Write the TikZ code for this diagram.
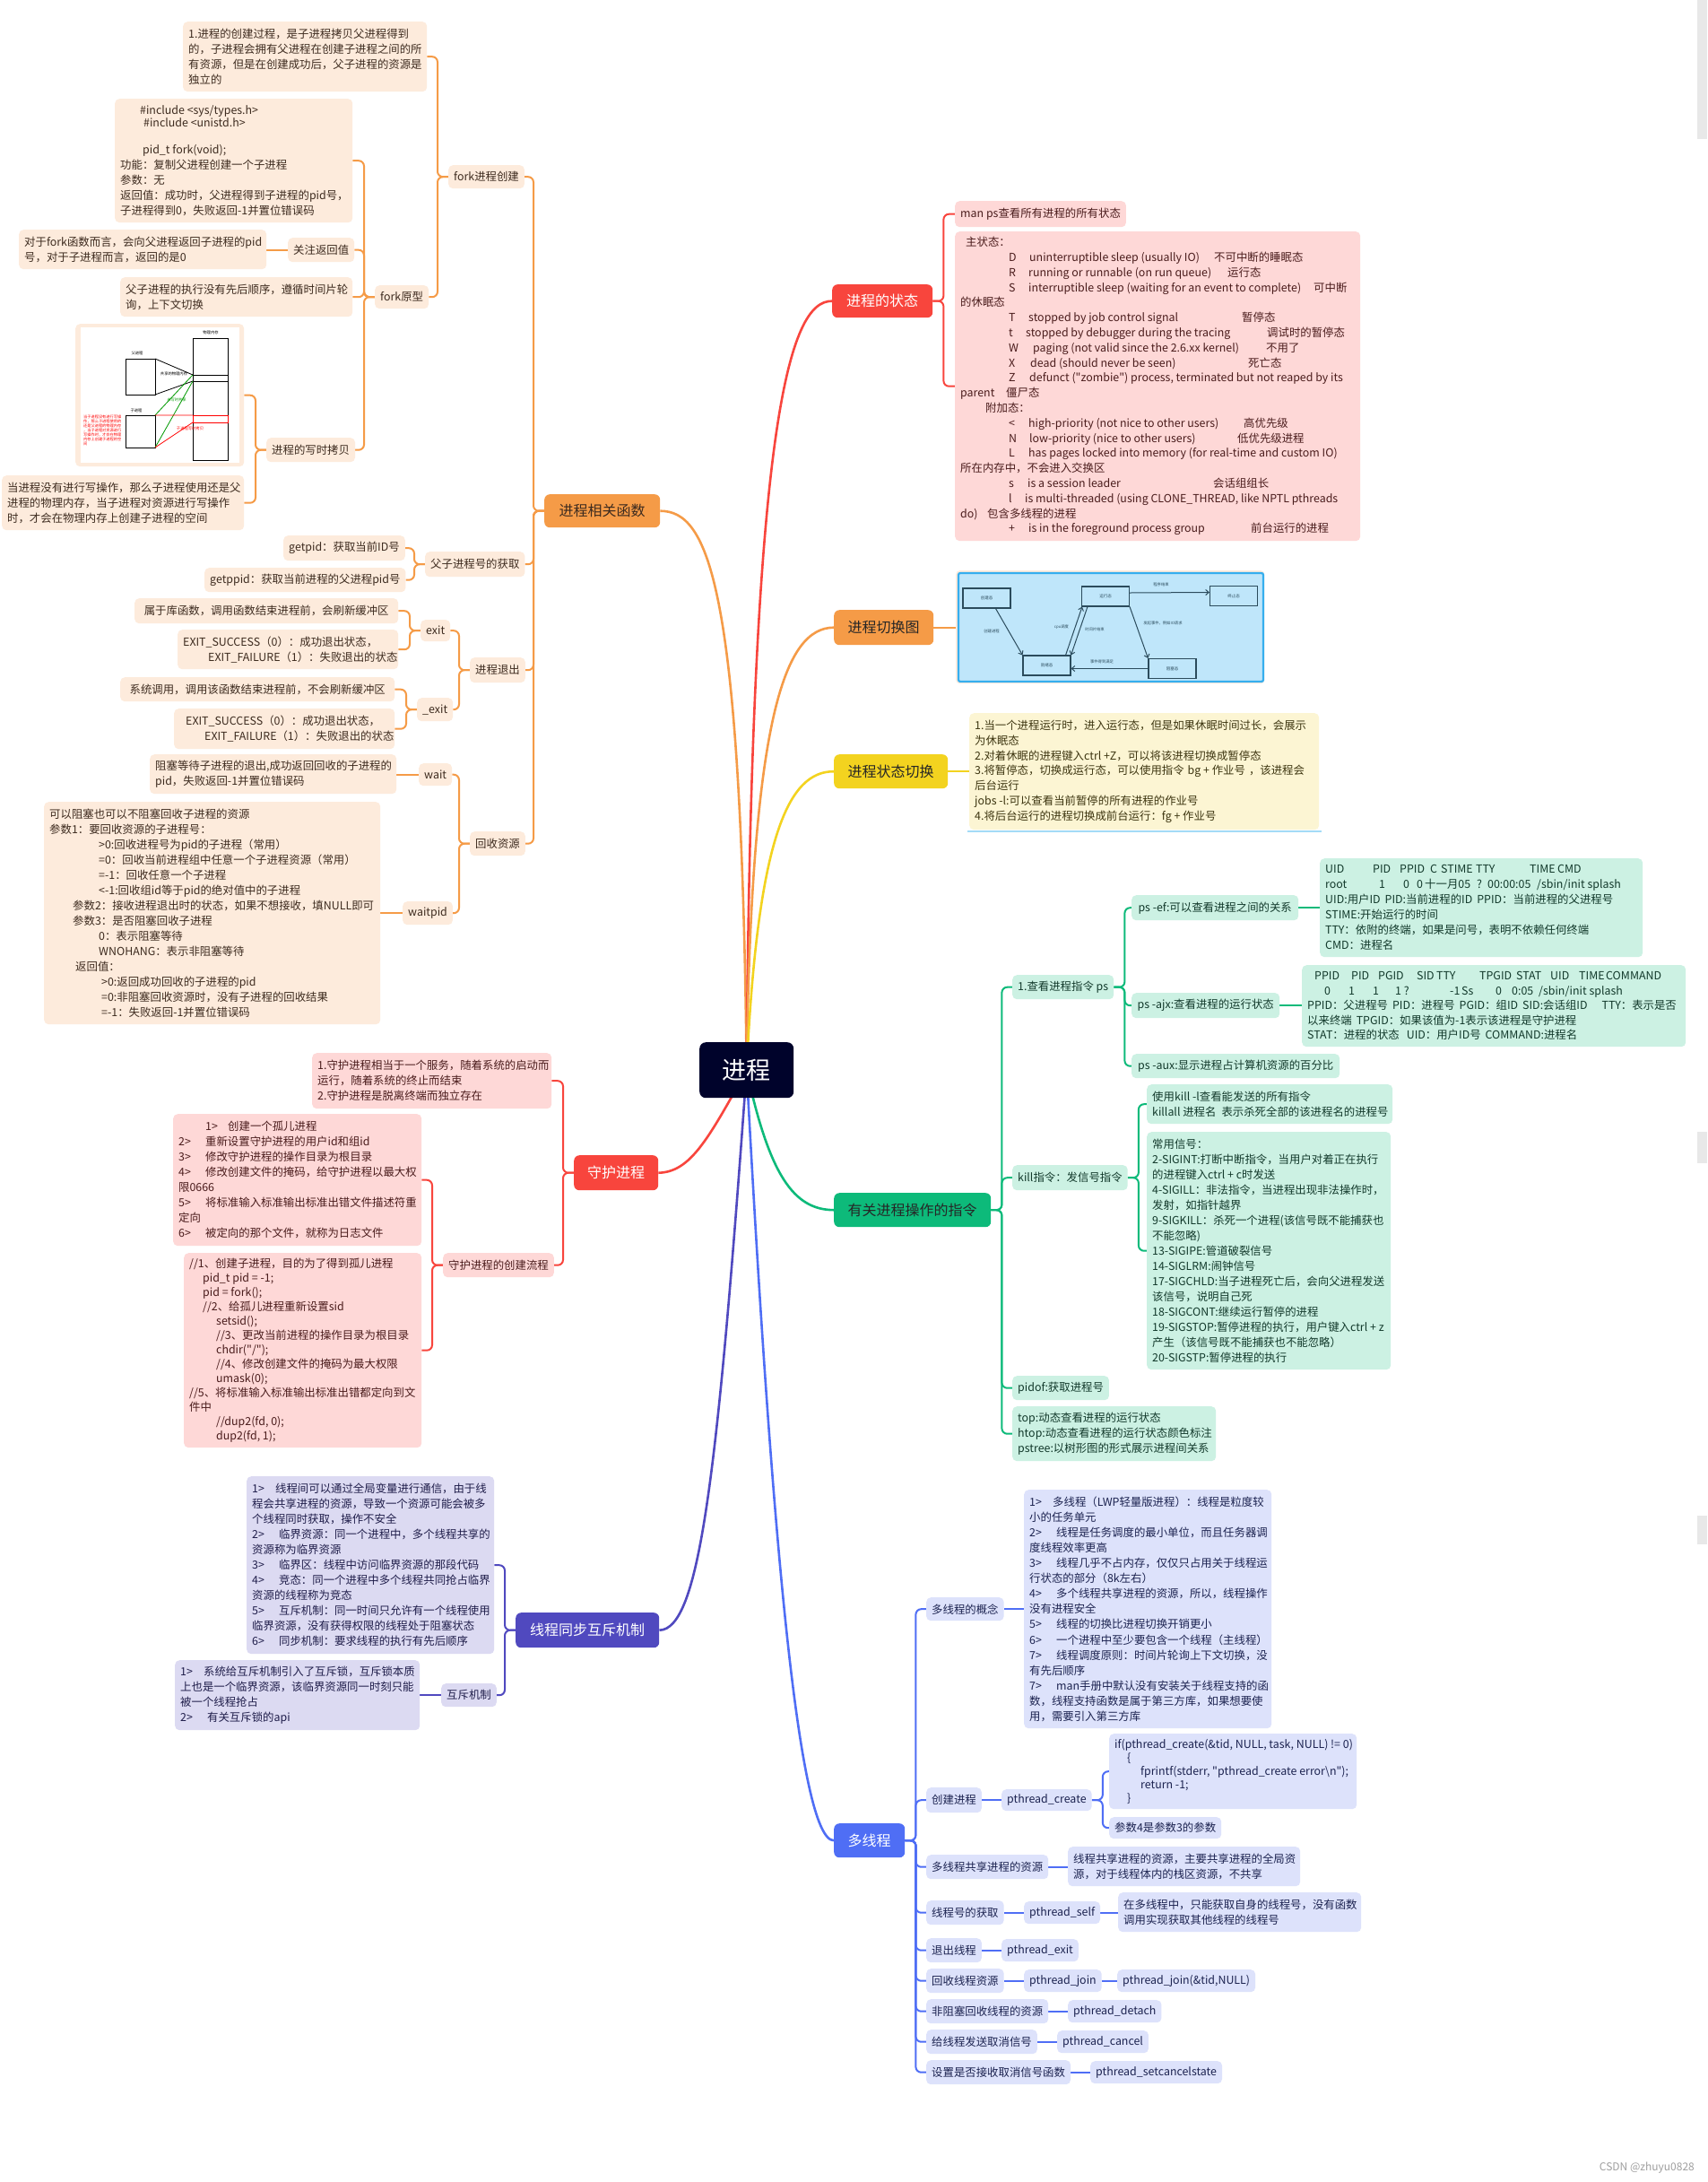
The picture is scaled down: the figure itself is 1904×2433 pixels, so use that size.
\documentclass[tikz,border=0pt]{standalone}
\usepackage{fontspec}
\setmainfont{Noto Sans CJK SC}[Ligatures=TeXOff]
\usetikzlibrary{backgrounds,arrows.meta,calc}
\definecolor{ROOT}{HTML}{00032B}
\definecolor{OR}{HTML}{F59B47}
\definecolor{ORL}{HTML}{FDEBDC}
\definecolor{ORT}{HTML}{3D2B1F}
\definecolor{RD}{HTML}{F8453D}
\definecolor{RDL}{HTML}{FED8D7}
\definecolor{RDT}{HTML}{4A1C1C}
\definecolor{YL}{HTML}{F3D31F}
\definecolor{YLL}{HTML}{FCF5D3}
\definecolor{YLT}{HTML}{3D3510}
\definecolor{GR}{HTML}{0DBA7A}
\definecolor{GRL}{HTML}{CCF1E3}
\definecolor{GRT}{HTML}{12392B}
\definecolor{IN}{HTML}{5049BF}
\definecolor{INL}{HTML}{DCDAF2}
\definecolor{INT}{HTML}{1F1D4A}
\definecolor{BL}{HTML}{4F6EF5}
\definecolor{BLL}{HTML}{DDE2FB}
\definecolor{BLT}{HTML}{1C2350}
\definecolor{SKY}{HTML}{BFE6FA}
\definecolor{SKYB}{HTML}{36AEEE}
\definecolor{DIAG}{HTML}{2B4B5C}
\newcommand\fsz[2]{\fontsize{#1pt}{#2pt}\selectfont}
\newcommand\BX[7]{\node[#1,anchor=north west,minimum width=#5pt,minimum height=#6pt] (#2) at (#3,#4) {};
  \node[#1,fill=none,anchor=west,inner sep=0pt] (#2t) at ([xshift=6pt]#2.west) {#7};}
\newcommand\BR[7]{\node[#1,anchor=north west,minimum width=#5pt,minimum height=#6pt] (#2) at (#3,#4) {#7};}
\newcommand\elL[3]{\draw[link,#1] (#2.west) -- ++(-12,0) |- (#3.east);}
\newcommand\elR[3]{\draw[link,#1] (#2.east) -- ++(12,0) |- (#3.west);}
\newcommand\stL[3]{\draw[link,#1] (#2.west) -- (#2.west -| #3.east);}
\newcommand\stR[3]{\draw[link,#1] (#2.east) -- (#2.east -| #3.west);}
\newcommand\MB[2]{\makebox[#1pt][l]{#2}}
\newcommand\HS[1]{\hspace*{#1pt}}
\tikzset{
 leaf/.style={rounded corners=5pt,inner xsep=6pt,inner ysep=2pt,align=left,font=\fsz{12.4}{17}},
 oL/.style={leaf,fill=ORL,text=ORT},
 rL/.style={leaf,fill=RDL,text=RDT},
 yL/.style={leaf,fill=YLL,text=YLT},
 gL/.style={leaf,fill=GRL,text=GRT},
 iL/.style={leaf,fill=INL,text=INT},
 bL/.style={leaf,fill=BLL,text=BLT},
 branch/.style={rounded corners=6pt,inner sep=2pt,align=center,font=\fsz{16}{20}},
 link/.style={line width=2pt,rounded corners=6pt},
 mlink/.style={line width=2.6pt},
 tinylab/.style={inner sep=0pt,font=\fsz{4.3}{5}},
 diagbox/.style={draw=DIAG,line width=1.1pt,minimum width=53pt,minimum height=22pt,inner sep=0pt,font=\fsz{4.5}{5},text=DIAG},
 darr/.style={draw=DIAG,line width=1pt,-{Straight Barb[length=3.5pt,width=6pt]}},
}
\begin{document}
\begin{tikzpicture}[x=1pt,y=-1pt]
\useasboundingbox (0,0) rectangle (1904,2433);
% ---------- root and branches
\BR{branch,fill=ROOT,text=white,font=\fsz{27}{30},rounded corners=7pt}{root}{780}{1162}{105}{62}{进程}
\BR{branch,fill=OR,text=ORT}{b1}{607}{551}{129}{37}{进程相关函数}
\BR{branch,fill=RD,text=white}{b2}{640}{1288}{94}{39}{守护进程}
\BR{branch,fill=IN,text=white}{b3}{575}{1798}{160}{39}{线程同步互斥机制}
\BR{branch,fill=RD,text=white}{b4}{928}{317}{112}{37}{进程的状态}
\BR{branch,fill=OR,text=black!85}{b5}{930}{680}{111}{39}{进程切换图}
\BR{branch,fill=YL,text=black!85}{b6}{930}{841}{127}{38}{进程状态切换}
\BR{branch,fill=GR,text=black!85}{b7}{930}{1330}{175}{38}{有关进程操作的指令}
\BR{branch,fill=BL,text=white}{b8}{930}{2033}{79}{38}{多线程}
% ---------- orange (left)
\BR{oL}{fk}{500}{184}{83}{26}{fork进程创建}
\BR{oL}{pid}{474}{615}{109}{28}{父子进程号的获取}
\BR{oL}{ex}{524}{733}{59}{28}{进程退出}
\BR{oL}{rc}{524}{927}{59}{27}{回收资源}
\BR{oL}{fp}{418}{318}{58}{26}{fork原型}
\BR{oL}{cow}{297}{488}{96}{27}{进程的写时拷贝}
\BR{oL}{rv}{321}{265}{72}{27}{关注返回值}
\BR{oL}{exit}{469}{691}{31}{24}{exit}
\BR{oL}{uexit}{465}{778}{35}{26}{\_exit}
\BR{oL}{wait}{467}{851}{33}{25}{wait}
\BR{oL}{wpid}{449}{1005}{51}{26}{waitpid}
\BX{oL}{a1}{204}{24}{272}{78}{1.进程的创建过程，是子进程拷贝父进程得到\\的，子进程会拥有父进程在创建子进程之间的所\\有资源，但是在创建成功后，父子进程的资源是\\独立的}
\BX{oL}{a2}{128}{110}{265}{138}{\HS{22}\#include <sys/types.h>\\[-3.4pt]\HS{26}\#include <unistd.h>\\[13pt]\HS{25}pid\_t fork(void);\\功能：复制父进程创建一个子进程\\参数：无\\返回值：成功时，父进程得到子进程的pid号，\\子进程得到0，失败返回-1并置位错误码}
\BX{oL}{a3}{21}{256}{276}{44}{对于fork函数而言，会向父进程返回子进程的pid\\号，对于子进程而言，返回的是0}
\BX{oL}{a4}{134}{309}{259}{44}{父子进程的执行没有先后顺序，遵循时间片轮\\询，上下文切换}
\BX{oL}{a5}{2}{530}{270}{61}{当进程没有进行写操作，那么子进程使用还是父\\进程的物理内存，当子进程对资源进行写操作\\时，才会在物理内存上创建子进程的空间}
\BR{oL}{gp}{316}{597}{134}{28}{getpid：获取当前ID号}
\BR{oL}{gpp}{228}{633}{222}{27}{getppid：获取当前进程的父进程pid号}
\BR{oL}{e1}{150}{667}{294}{28}{属于库函数，调用函数结束进程前，会刷新缓冲区}
\BX{oL}{e2}{198}{702}{246}{44}{EXIT\_SUCCESS（0）：成功退出状态，\\\HS{28}EXIT\_FAILURE（1）：失败退出的状态}
\BR{oL}{e3}{134}{755}{306}{27}{系统调用，调用该函数结束进程前，不会刷新缓冲区}
\BX{oL}{e4}{194}{790}{246}{45}{\HS{7}EXIT\_SUCCESS（0）：成功退出状态，\\\HS{28}EXIT\_FAILURE（1）：失败退出的状态}
\BX{oL}{w1}{167}{841}{275}{44}{阻塞等待子进程的退出,成功返回回收的子进程的\\pid，失败返回-1并置位错误码}
\BX{oL}{w2}{49}{894}{375}{248}{可以阻塞也可以不阻塞回收子进程的资源\\参数1：要回收资源的子进程号：\\\HS{55}>0:回收进程号为pid的子进程（常用）\\\HS{55}=0：回收当前进程组中任意一个子进程资源（常用）\\\HS{55}=-1：回收任意一个子进程\\\HS{55}<-1:回收组id等于pid的绝对值中的子进程\\\HS{26}参数2：接收进程退出时的状态，如果不想接收，填NULL即可\\\HS{26}参数3：是否阻塞回收子进程\\\HS{55}0：表示阻塞等待\\\HS{55}WNOHANG：表示非阻塞等待\\\HS{29}返回值：\\\HS{58}>0:返回成功回收的子进程的pid\\\HS{58}=0:非阻塞回收资源时，没有子进程的回收结果\\\HS{58}=-1：失败返回-1并置位错误码}
% copy-on-write picture
\BR{fill=ORL,rounded corners=5pt,inner sep=0pt}{img1}{84}{361}{188}{159}{}
\fill[white] (90,365) rectangle (267,516);
\draw[line width=1pt] (215,377) rectangle (254,513);
\draw[line width=0.8pt] (215,418) -- (254,418) (215,425) -- (254,425);
\draw[red,line width=0.8pt] (215,463) rectangle (254,471);
\draw[line width=1pt] (140,400) rectangle (173,440);
\draw[line width=1pt] (140,463) rectangle (173,499);
\draw[line width=0.8pt] (173,400) -- (215,418) (173,440) -- (215,425);
\draw[green!60!black,line width=0.8pt] (173,463) -- (215,418) (173,499) -- (215,425);
\draw[red,line width=0.8pt] (173,463) -- (215,463) (173,499) -- (215,471);
\node[tinylab] (cl1) at (235,371) {物理内存};
\node[tinylab] (cl2) at (153,394) {父进程};
\node[tinylab] (cl3) at (152,458) {子进程};
\node[tinylab] (cl4) at (194,417) {共享的物理内存};
\node[tinylab,text=green!60!black] (cl5) at (197,446) {未写时共享};
\node[tinylab,text=red] (cl6) at (212,478) {子进程写时拷贝};
\node[tinylab,text=red,align=left,anchor=north west,font=\fsz{4.2}{4.9}] (cl7) at (93,463) {当子进程没有进行写操\\作，那么子进程使用的\\还是父进程的物理内存\\，当子进程对资源进行\\写操作时，才会在物理\\内存上创建子进程的空\\间};
% ---------- red (left)
\BX{rL}{d1}{348}{1174}{267}{62}{1.守护进程相当于一个服务，随着系统的启动而\\运行，随着系统的终止而结束\\2.守护进程是脱离终端而独立存在}
\BR{rL}{dflow}{494}{1397}{121}{27}{守护进程的创建流程}
\BX{rL}{d2}{193}{1242}{277}{147}{\HS{30}\MB{25}{1>}创建一个孤儿进程\\\MB{30}{2>}重新设置守护进程的用户id和组id\\\MB{30}{3>}修改守护进程的操作目录为根目录\\\MB{30}{4>}修改创建文件的掩码，给守护进程以最大权\\限0666\\\MB{30}{5>}将标准输入标准输出标准出错文件描述符重\\定向\\\MB{30}{6>}被定向的那个文件，就称为日志文件}
\BX{rL,font=\fsz{12.4}{16}}{d3}{205}{1397}{265}{217}{//1、创建子进程，目的为了得到孤儿进程\\\HS{15}pid\_t pid = -1;\\\HS{15}pid = fork();\\\HS{15}//2、给孤儿进程重新设置sid\\\HS{30}setsid();\\\HS{30}//3、更改当前进程的操作目录为根目录\\\HS{30}chdir("/");\\\HS{30}//4、修改创建文件的掩码为最大权限\\\HS{30}umask(0);\\//5、将标准输入标准输出标准出错都定向到文\\件中\\\HS{30}//dup2(fd, 0);\\\HS{30}dup2(fd, 1);}
% ---------- indigo
\BX{iL}{s1}{275}{1646}{276}{198}{\MB{26}{1>}线程间可以通过全局变量进行通信，由于线\\程会共享进程的资源，导致一个资源可能会被多\\个线程同时获取，操作不安全\\\MB{30}{2>}临界资源：同一个进程中，多个线程共享的\\资源称为临界资源\\\MB{30}{3>}临界区：线程中访问临界资源的那段代码\\\MB{30}{4>}竞态：同一个进程中多个线程共同抢占临界\\资源的线程称为竞态\\\MB{30}{5>}互斥机制：同一时间只允许有一个线程使用\\临界资源，没有获得权限的线程处于阻塞状态\\\MB{30}{6>}同步机制：要求线程的执行有先后顺序}
\BR{iL}{mx}{492}{1877}{59}{26}{互斥机制}
\BX{iL}{s3}{195}{1851}{273}{78}{\MB{26}{1>}系统给互斥机制引入了互斥锁，互斥锁本质\\上也是一个临界资源，该临界资源同一时刻只能\\被一个线程抢占\\\MB{30}{2>}有关互斥锁的api}
% ---------- red (right)
\BR{rL}{mps}{1065}{224}{189}{29}{man ps查看所有进程的所有状态}
\BX{rL,font=\fsz{12.4}{16.8}}{st}{1065}{258}{452}{345}{\HS{6}主状态：\\
\HS{54}\MB{23}{D}\MB{206}{uninterruptible sleep (usually IO)}不可中断的睡眠态\\
\HS{54}\MB{22}{R}\MB{222}{running or runnable (on run queue)}运行态\\
\HS{54}\MB{22}{S}\MB{318}{interruptible sleep (waiting for an event to complete)}可中断\\
的休眠态\\
\HS{54}\MB{22}{T}\MB{238}{stopped by job control signal}暂停态\\
\HS{54}\MB{19}{t}\MB{269}{stopped by debugger during the tracing}调试时的暂停态\\
\HS{54}\MB{27}{W}\MB{260}{paging (not valid since the 2.6.xx kernel)}不用了\\
\HS{54}\MB{24}{X}\MB{243}{dead (should never be seen)}死亡态\\
\HS{54}\MB{23}{Z}defunct ("zombie") process, terminated but not reaped by its\\
\MB{51}{parent}僵尸态\\
\HS{28}附加态：\\
\HS{54}\MB{22}{<}\MB{240}{high-priority (not nice to other users)}高优先级\\
\HS{54}\MB{23}{N}\MB{232}{low-priority (nice to other users)}低优先级进程\\
\HS{54}\MB{22}{L}has pages locked into memory (for real-time and custom IO)\\
所在内存中，不会进入交换区\\
\HS{54}\MB{21}{s}\MB{207}{is a session leader}会话组组长\\
\HS{54}\MB{18}{l}is multi-threaded (using CLONE\_THREAD, like NPTL pthreads\\
\MB{30}{do)}包含多线程的进程\\
\HS{54}\MB{22}{+}\MB{248}{is in the foreground process group}前台运行的进程}
% ---------- process switch picture
\BR{fill=ORL,rounded corners=4pt,inner sep=0pt}{img2}{1066}{636}{344}{126}{}
\draw[fill=SKY,draw=SKYB,line width=2.2pt,rounded corners=2pt] (1069,639) rectangle (1409,760);
\node[diagbox] (cj) at (1100.5,667) {创建态};
\node[diagbox] (yx) at (1233,665) {运行态};
\node[diagbox] (zz) at (1376,664.5) {终止态};
\node[diagbox] (jx) at (1167.5,742) {就绪态};
\node[diagbox] (zs) at (1307.5,745.5) {阻塞态};
\draw[darr] ([xshift=10pt]cj.south) -- (jx.north west);
\draw[darr] ([xshift=-6pt]jx.north east) -- ([xshift=1pt]yx.south west);
\draw[darr] ([xshift=7pt]yx.south west) -- (jx.north east);
\draw[darr] ([yshift=4pt]yx.east) -- ([yshift=4pt]zz.west);
\draw[darr] (yx.south east) -- (zs.north west);
\draw[darr] (zs.west) -- (zs.west -| jx.east);
\node[tinylab,text=DIAG] (dl1) at (1106,704) {创建进程};
\node[tinylab,text=DIAG] (dl2) at (1184,699) {cpu调度};
\node[tinylab,text=DIAG] (dl3) at (1221,702) {时间片结束};
\node[tinylab,text=DIAG] (dl4) at (1295,652) {程序结束};
\node[tinylab,text=DIAG] (dl5) at (1297,695) {发起事件，例如IO请求};
\node[tinylab,text=DIAG] (dl6) at (1229,738) {事件得到满足};
% ---------- yellow
\BX{yL,font=\fsz{12.4}{16.8}}{y1}{1081}{795}{390}{130}{1.当一个进程运行时，进入运行态，但是如果休眠时间过长，会展示\\为休眠态\\2.对着休眠的进程键入ctrl +Z，可以将该进程切换成暂停态\\3.将暂停态，切换成运行态，可以使用指令\HS{4}bg + 作业号\HS{4}，该进程会\\后台运行\\jobs -l:可以查看当前暂停的所有进程的作业号\\4.将后台运行的进程切换成前台运行：fg + 作业号}
% ---------- green
\BR{gL}{ps}{1129}{1087}{110}{27}{1.查看进程指令 ps}
\BR{gL}{psef}{1262}{998}{186}{28}{ps -ef:可以查看进程之间的关系}
\BX{gL}{ef}{1472}{957}{360}{110}{\MB{53}{UID}\MB{30}{PID}\MB{34}{PPID}\MB{12}{C}\MB{39}{STIME}\MB{60}{TTY}\MB{31}{TIME}CMD\\\MB{60}{root}\MB{27}{1}\MB{15}{0}\MB{9}{0}\MB{58}{十一月05}\MB{12}{?}\MB{55}{00:00:05}/sbin/init splash\\UID:用户ID\HS{5}PID:当前进程的ID\HS{5}PPID：当前进程的父进程号\\STIME:开始运行的时间\\TTY：依附的终端，如果是问号，表明不依赖任何终端\\CMD：进程名}
\BR{gL}{psajx}{1262}{1107}{165}{28}{ps -ajx:查看进程的运行状态}
\BX{gL,font=\fsz{12.4}{16.5}}{ajx}{1452}{1076}{428}{91}{\HS{8}\MB{41}{PPID}\MB{30}{PID}\MB{43}{PGID}\MB{22}{SID}\MB{48}{TTY}\MB{41}{TPGID}\MB{38}{STAT}\MB{32}{UID}\MB{30}{TIME}COMMAND\\\HS{19}\MB{27}{0}\MB{27}{1}\MB{25}{1}\MB{61}{1 ?}\MB{13}{-1}\MB{38}{Ss}\MB{18}{0}\MB{30}{0:05}/sbin/init splash\\PPID：父进程号\HS{5}PID：进程号\HS{5}PGID：组ID\HS{5}SID:会话组ID\HS{16}TTY：表示是否\\以来终端\HS{5}TPGID：如果该值为-1表示该进程是守护进程\\STAT：进程的状态\HS{8}UID：用户ID号\HS{5}COMMAND:进程名}
\BR{gL}{psaux}{1262}{1175}{232}{27}{ps -aux:显示进程占计算机资源的百分比}
\BR{gL}{kill}{1129}{1299}{125}{28}{kill指令：发信号指令}
\BX{gL}{k1}{1279}{1209}{274}{44}{使用kill -l查看能发送的所有指令\\killall 进程名\HS{6}表示杀死全部的该进程名的进程号}
\BX{gL}{k2}{1279}{1262}{272}{265}{常用信号：\\2-SIGINT:打断中断指令，当用户对着正在执行\\的进程键入ctrl + c时发送\\4-SIGILL：非法指令，当进程出现非法操作时，\\发射，如指针越界\\9-SIGKILL：杀死一个进程(该信号既不能捕获也\\不能忽略)\\13-SIGIPE:管道破裂信号\\14-SIGLRM:闹钟信号\\17-SIGCHLD:当子进程死亡后，会向父进程发送\\该信号，说明自己死\\18-SIGCONT:继续运行暂停的进程\\19-SIGSTOP:暂停进程的执行，用户键入ctrl + z\\产生（该信号既不能捕获也不能忽略）\\20-SIGSTP:暂停进程的执行}
\BR{gL}{pidof}{1129}{1534}{107}{27}{pidof:获取进程号}
\BX{gL}{top}{1129}{1568}{227}{61}{top:动态查看进程的运行状态\\htop:动态查看进程的运行状态颜色标注\\pstree:以树形图的形式展示进程间关系}
% ---------- blue
\BR{bL}{bc}{1033}{1781}{85}{26}{多线程的概念}
\BX{bL,font=\fsz{12.4}{17.1}}{cc}{1142}{1661}{276}{266}{\MB{26}{1>}多线程（LWP轻量版进程）：线程是粒度较\\小的任务单元\\\MB{30}{2>}线程是任务调度的最小单位，而且任务器调\\度线程效率更高\\\MB{30}{3>}线程几乎不占内存，仅仅只占用关于线程运\\行状态的部分（8k左右）\\\MB{30}{4>}多个线程共享进程的资源，所以，线程操作\\没有进程安全\\\MB{30}{5>}线程的切换比进程切换开销更小\\\MB{30}{6>}一个进程中至少要包含一个线程（主线程）\\\MB{30}{7>}线程调度原则：时间片轮询上下文切换，没\\有先后顺序\\\MB{30}{7>}man手册中默认没有安装关于线程支持的函\\数，线程支持函数是属于第三方库，如果想要使\\用，需要引入第三方库}
\BR{bL}{bcr}{1033}{1993}{60}{28}{创建进程}
\BR{bL}{ptc}{1117}{1995}{96}{24}{pthread\_create}
\BX{bL,font=\fsz{12.4}{15}}{code}{1237}{1933}{276}{84}{if(pthread\_create(\&tid, NULL, task, NULL) != 0)\\\HS{14}\{\\\HS{29}fprintf(stderr, "pthread\_create error\textbackslash n");\\\HS{29}return -1;\\\HS{14}\}}
\BR{bL}{p4}{1237}{2026}{125}{24}{参数4是参数3的参数}
\BR{bL}{bsh}{1033}{2068}{134}{27}{多线程共享进程的资源}
\BX{bL}{shr}{1191}{2059}{259}{44}{线程共享进程的资源，主要共享进程的全局资\\源，对于线程体内的栈区资源，不共享}
\BR{bL}{btid}{1033}{2119}{84}{27}{线程号的获取}
\BR{bL}{pself}{1142}{2120}{80}{25}{pthread\_self}
\BX{bL}{self}{1247}{2110}{271}{44}{在多线程中，只能获取自身的线程号，没有函数\\调用实现获取其他线程的线程号}
\BR{bL}{bex}{1033}{2161}{59}{27}{退出线程}
\BR{bL}{pex}{1117}{2162}{80}{25}{pthread\_exit}
\BR{bL}{bjn}{1033}{2195}{84}{27}{回收线程资源}
\BR{bL}{pjn}{1142}{2196}{80}{25}{pthread\_join}
\BR{bL}{pjn2}{1246}{2196}{145}{25}{pthread\_join(\&tid,NULL)}
\BR{bL}{bdt}{1033}{2229}{134}{27}{非阻塞回收线程的资源}
\BR{bL}{pdt}{1191}{2230}{100}{25}{pthread\_detach}
\BR{bL}{bcn}{1033}{2263}{121}{27}{给线程发送取消信号}
\BR{bL}{pcn}{1179}{2264}{97}{25}{pthread\_cancel}
\BR{bL}{bst}{1033}{2297}{159}{27}{设置是否接收取消信号函数}
\BR{bL}{pst}{1216}{2298}{143}{25}{pthread\_setcancelstate}
% watermark
\node[anchor=east,inner sep=0pt,text=gray!75,font=\fsz{12}{14}] (wm) at (1890,2417) {CSDN @zhuyu0828};
% ---------- connectors
\begin{pgfonlayer}{background}
\fill[white] (0,0) rectangle (1904,2433);
\fill[gray!18] (1893,0) rectangle (1904,155);
\fill[gray!18] (1893,1262) rectangle (1904,1297);
\fill[gray!18] (1893,1690) rectangle (1904,1722);
\draw[SKYB!45,line width=1.5pt] (1079,927) -- (1474,927);
\draw[mlink,OR] (root.center) .. controls (827,650) and (790,570) .. (b1.east);
\draw[mlink,RD] (root.center) .. controls (838,470) and (880,335) .. (b4.west);
\draw[mlink,OR] (root.center) .. controls (838,800) and (875,700) .. (b5.west);
\draw[mlink,YL] (root.center) .. controls (845,930) and (880,860) .. (b6.west);
\draw[mlink,RD] (root.center) .. controls (790,1270) and (770,1307) .. (b2.east);
\draw[mlink,GR] (root.center) .. controls (858,1310) and (885,1349) .. (b7.west);
\draw[mlink,IN] (root.center) .. controls (800,1650) and (780,1817) .. (b3.east);
\draw[mlink,BL] (root.center) .. controls (860,1700) and (890,2052) .. (b8.west);
\elL{OR}{b1}{fk} \elL{OR}{b1}{pid} \elL{OR}{b1}{ex} \elL{OR}{b1}{rc}
\elL{OR}{fk}{a1} \elL{OR}{fk}{fp}
\elL{OR}{fp}{a2} \elL{OR}{fp}{rv} \elL{OR}{fp}{a4} \elL{OR}{fp}{cow}
\stL{OR}{rv}{a3}
\elL{OR}{cow}{img1} \elL{OR}{cow}{a5}
\elL{OR}{pid}{gp} \elL{OR}{pid}{gpp}
\elL{OR}{ex}{exit} \elL{OR}{ex}{uexit}
\elL{OR}{exit}{e1} \elL{OR}{exit}{e2}
\elL{OR}{uexit}{e3} \elL{OR}{uexit}{e4}
\elL{OR}{rc}{wait} \elL{OR}{rc}{wpid}
\stL{OR}{wait}{w1} \stL{OR}{wpid}{w2}
\elL{RD}{b2}{d1} \elL{RD}{b2}{dflow} \elL{RD}{dflow}{d2} \elL{RD}{dflow}{d3}
\elL{IN}{b3}{s1} \elL{IN}{b3}{mx} \stL{IN}{mx}{s3}
\elR{RD}{b4}{mps} \elR{RD}{b4}{st}
\stR{OR}{b5}{img2} \stR{YL}{b6}{y1}
\elR{GR}{b7}{ps} \elR{GR}{b7}{kill} \elR{GR}{b7}{pidof} \elR{GR}{b7}{top}
\elR{GR}{ps}{psef} \elR{GR}{ps}{psajx} \elR{GR}{ps}{psaux}
\stR{GR}{psef}{ef} \stR{GR}{psajx}{ajx}
\elR{GR}{kill}{k1} \elR{GR}{kill}{k2}
\elR{BL}{b8}{bc} \elR{BL}{b8}{bcr} \elR{BL}{b8}{bsh} \elR{BL}{b8}{btid} \elR{BL}{b8}{bex}
\elR{BL}{b8}{bjn} \elR{BL}{b8}{bdt} \elR{BL}{b8}{bcn} \elR{BL}{b8}{bst}
\stR{BL}{bc}{cc} \stR{BL}{bcr}{ptc} \elR{BL}{ptc}{code} \elR{BL}{ptc}{p4}
\stR{BL}{bsh}{shr} \stR{BL}{btid}{pself} \stR{BL}{pself}{self} \stR{BL}{bex}{pex}
\stR{BL}{bjn}{pjn} \stR{BL}{pjn}{pjn2} \stR{BL}{bdt}{pdt} \stR{BL}{bcn}{pcn} \stR{BL}{bst}{pst}
\end{pgfonlayer}
\end{tikzpicture}
\end{document}
